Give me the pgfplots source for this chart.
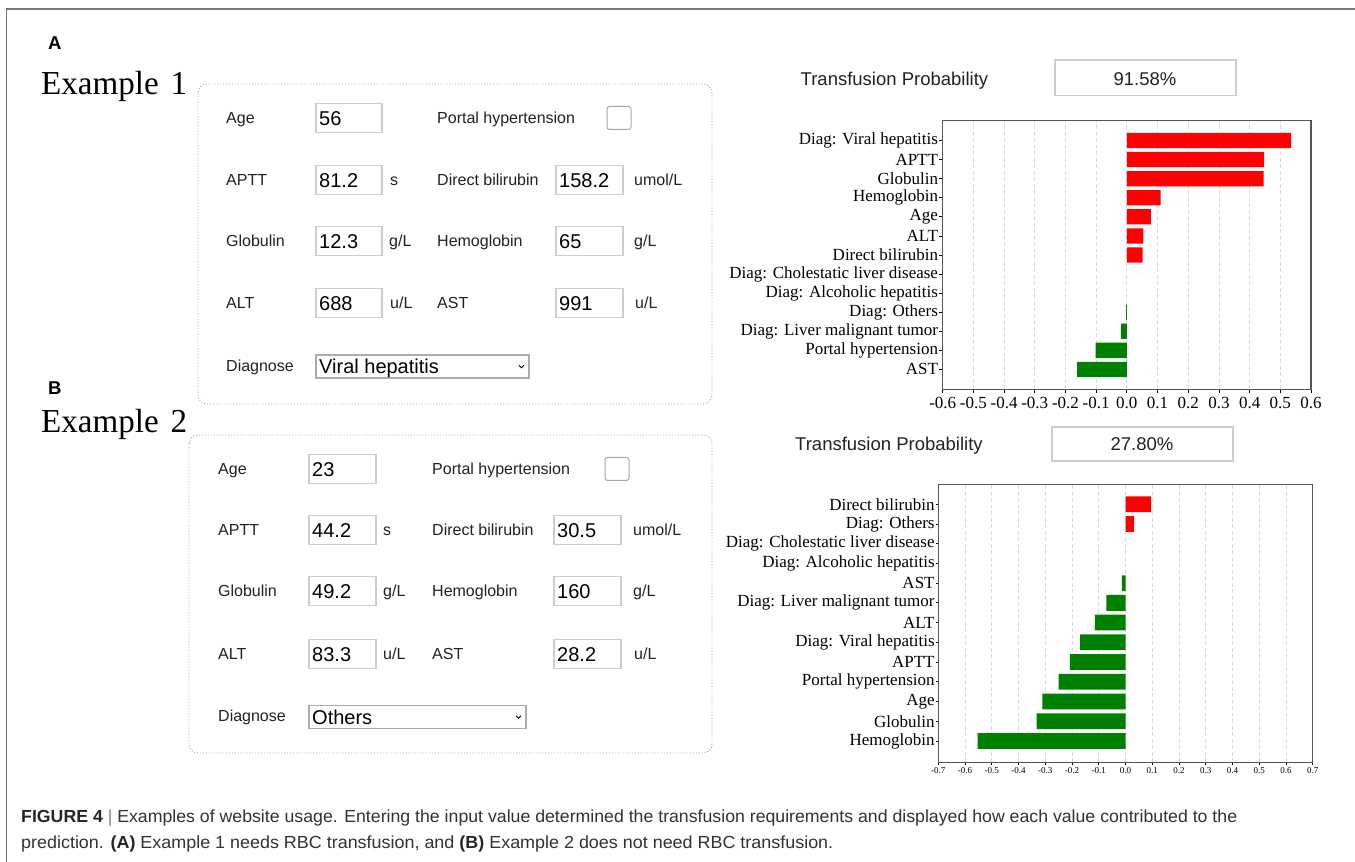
\documentclass[border=0pt]{standalone}
\usepackage{fontspec}
\setmainfont{Liberation Sans}
\newfontfamily\serif{Liberation Serif}
\usepackage{graphicx}
\usepackage{pgfplots}
\pgfplotsset{compat=1.18}
\definecolor{barred}{RGB}{255,0,0}
\definecolor{bargreen}{RGB}{0,128,0}
\definecolor{inputc}{RGB}{205,205,205}
\definecolor{framec}{RGB}{120,120,120}
\definecolor{txt}{RGB}{34,34,34}
\definecolor{capc}{RGB}{50,50,50}
\definecolor{axc}{RGB}{85,85,85}
\newcommand\lab{\fontsize{16}{19}\selectfont}
\newcommand\val{\fontsize{20}{24}\selectfont}
% label: x, ycenter(px from top), text
\newcommand\Lbl[3]{\node[anchor=base west,inner sep=0,font=\lab,text=txt] at (#1,{862-#2-5.7}) {#3};}
% input: x1, x2, ycenter, value
\newcommand\Inp[4]{%
  \draw[inputc,line width=1.2pt] (#1,{862-#3+14.5}) rectangle (#2,{862-#3-14.5});
  \node[anchor=base west,inner sep=0,font=\val] at ({#1+3},{862-#3-7.2}) {#4};}
% checkbox: x, ycenter
\newcommand\Chk[2]{\draw[gray!70,line width=1pt,rounded corners=2.5pt] (#1,{862-#2+11.5}) rectangle ({#1+24},{862-#2-11.5});}
% select: x1, x2, ycenter, text
\newcommand\Sel[4]{%
  \draw[gray!65,line width=1.2pt] (#1,{862-#3+11.5}) rectangle (#2,{862-#3-11.5});
  \node[anchor=base west,inner sep=0,font=\val] at ({#1+3},{862-#3-7.2}) {#4};
  \draw[black,line width=0.9pt] ({#2-10},{862-#3+1.2}) -- ({#2-7.5},{862-#3-1.3}) -- ({#2-5},{862-#3+1.2});}
\pgfplotsset{
  shapax/.style={
    anchor=south west, scale only axis,
    axis line style={axc,line width=1.2pt},
    tick style={black,line width=0.8pt},
    major tick length=3.5pt,
    tick align=outside,
    xtick pos=left, ytick pos=left,
    xmajorgrids,
    major grid style={gray!28,line width=0.8pt,dash pattern=on 4pt off 2.5pt},
    ytick={0,1,2,3,4,5,6,7,8,9,10,11,12},
    yticklabel style={font=\serif\fontsize{17}{19}\selectfont,inner sep=1pt},
  },
  posbar/.style={xbar,bar width=0.8,bar shift=0pt,fill=barred,draw=none},
  negbar/.style={xbar,bar width=0.8,bar shift=0pt,fill=bargreen,draw=none},
}
\begin{document}
\begin{tikzpicture}[x=1pt,y=1pt]
\useasboundingbox (0,0) rectangle (1355,862);
\fill[white] (0,0) rectangle (1355,862);
\draw[framec,line width=1.5pt] (1355,853) -- (6.5,853) -- (6.5,0);

% ---- panel labels ----
\node[anchor=base west,inner sep=0,font=\fontsize{18.5}{20}\selectfont\bfseries] at (48,{862-50}) {A};
\node[anchor=base west,inner sep=0,font=\fontsize{18.5}{20}\selectfont\bfseries] at (48,{862-395}) {B};
\node[anchor=base west,inner sep=0,font=\serif\fontsize{33.5}{36}\selectfont] at (41,{862-95}) {\resizebox{146pt}{\height}{Example\hspace{12pt}1}};
\node[anchor=base west,inner sep=0,font=\serif\fontsize{33.5}{36}\selectfont] at (41,{862-433}) {\resizebox{146pt}{\height}{Example\hspace{12pt}2}};

% ---- form 1 ----
\draw[gray!75,dotted,line width=0.9pt,rounded corners=9pt] (198,{862-84}) rectangle (712,{862-404});
\Lbl{226}{118}{Age} \Inp{316}{382}{118}{56} \Lbl{437}{118}{Portal hypertension} \Chk{607}{118}
\Lbl{226}{180}{APTT} \Inp{316}{382}{180}{81.2} \Lbl{390}{180}{s} \Lbl{437}{180}{Direct bilirubin} \Inp{556}{623}{180}{158.2} \Lbl{634}{180}{umol/L}
\Lbl{226}{241}{Globulin} \Inp{316}{382}{241}{12.3} \Lbl{389}{241}{g/L} \Lbl{437}{241}{Hemoglobin} \Inp{556}{623}{241}{65} \Lbl{634}{241}{g/L}
\Lbl{226}{303}{ALT} \Inp{316}{382}{303}{688} \Lbl{390}{303}{u/L} \Lbl{437}{303}{AST} \Inp{556}{623}{303}{991} \Lbl{635}{303}{u/L}
\Lbl{226}{366}{Diagnose} \Sel{316}{529}{366.5}{Viral hepatitis}

% ---- form 2 ----
\draw[gray!75,dotted,line width=0.9pt,rounded corners=9pt] (189,{862-435}) rectangle (712,{862-753});
\Lbl{218}{469}{Age} \Inp{309}{376}{469}{23} \Lbl{432}{469}{Portal hypertension} \Chk{605}{469}
\Lbl{218}{530}{APTT} \Inp{309}{376}{530}{44.2} \Lbl{383}{530}{s} \Lbl{432}{530}{Direct bilirubin} \Inp{554}{621}{530}{30.5} \Lbl{633}{530}{umol/L}
\Lbl{218}{591}{Globulin} \Inp{309}{376}{591}{49.2} \Lbl{383}{591}{g/L} \Lbl{432}{591}{Hemoglobin} \Inp{554}{621}{591}{160} \Lbl{633}{591}{g/L}
\Lbl{218}{654}{ALT} \Inp{309}{376}{654}{83.3} \Lbl{383}{654}{u/L} \Lbl{432}{654}{AST} \Inp{554}{621}{654}{28.2} \Lbl{634}{654}{u/L}
\Lbl{218}{716}{Diagnose} \Sel{309}{526}{717}{Others}

% ---- probability boxes ----
\node[anchor=base west,inner sep=0,font=\fontsize{18.5}{22}\selectfont,text=txt] at (800.5,{862-86}) {Transfusion Probability};
\draw[inputc,line width=1.2pt] (1055,{862-60}) rectangle (1236,{862-95.5});
\node[anchor=base,inner sep=0,font=\fontsize{18.5}{22}\selectfont,text=txt] at (1145,{862-86}) {91.58\%};
\node[anchor=base west,inner sep=0,font=\fontsize{18.5}{22}\selectfont,text=txt] at (795,{862-451}) {Transfusion Probability};
\draw[inputc,line width=1.2pt] (1052,{862-427}) rectangle (1233,{862-461});
\node[anchor=base,inner sep=0,font=\fontsize{18.5}{22}\selectfont,text=txt] at (1142,{862-451}) {27.80\%};

% ---- chart A ----
\begin{axis}[shapax,
  at={(942.7pt,472.7pt)}, width=368.3pt, height=268.6pt,
  xmin=-0.6, xmax=0.6, ymin=-1.04, ymax=13.04,
  xtick={-0.6,-0.5,-0.4,-0.3,-0.2,-0.1,0,0.1,0.2,0.3,0.4,0.5,0.6},
  xticklabels={-0.6,-0.5,-0.4,-0.3,-0.2,-0.1,0.0,0.1,0.2,0.3,0.4,0.5,0.6},
  xticklabel style={font=\serif\fontsize{17}{19}\selectfont,inner sep=4pt},
  yticklabels={AST,Portal hypertension,Diag: Liver malignant tumor,Diag: Others,Diag: Alcoholic hepatitis,Diag: Cholestatic liver disease,Direct bilirubin,ALT,Age,Hemoglobin,Globulin,APTT,Diag: Viral hepatitis},
]
\addplot[posbar] coordinates {(0.535,12) (0.447,11) (0.446,10) (0.110,9) (0.078,8) (0.054,7) (0.051,6)};
\addplot[negbar] coordinates {(-0.002,3) (-0.019,2) (-0.102,1) (-0.162,0)};
\end{axis}

% ---- chart B ----
\begin{axis}[shapax,
  at={(938.3pt,99.7pt)}, width=374.4pt, height=278pt,
  xmin=-0.7, xmax=0.7, ymin=-1.08, ymax=13.01,
  major tick length=2.5pt,
  xtick={-0.7,-0.6,-0.5,-0.4,-0.3,-0.2,-0.1,0,0.1,0.2,0.3,0.4,0.5,0.6,0.7},
  xticklabels={-0.7,-0.6,-0.5,-0.4,-0.3,-0.2,-0.1,0.0,0.1,0.2,0.3,0.4,0.5,0.6,0.7},
  xticklabel style={font=\serif\fontsize{9}{10}\selectfont,inner sep=3pt},
  yticklabels={Hemoglobin,Globulin,Age,Portal hypertension,APTT,Diag: Viral hepatitis,ALT,Diag: Liver malignant tumor,AST,Diag: Alcoholic hepatitis,Diag: Cholestatic liver disease,Diag: Others,Direct bilirubin},
]
\addplot[posbar] coordinates {(0.096,12) (0.032,11)};
\addplot[negbar] coordinates {(-0.014,8) (-0.072,7) (-0.115,6) (-0.170,5) (-0.208,4) (-0.250,3) (-0.311,2) (-0.332,1) (-0.553,0)};
\end{axis}

% ---- caption ----
\node[anchor=base west,inner sep=0,text=capc] at (21,{862-823}) {\resizebox{1216pt}{\height}{\fontsize{17.5}{20}\selectfont{\bfseries\color{black!85}FIGURE 4} {\color{gray}|} Examples of website usage. Entering the input value determined the transfusion requirements and displayed how each value contributed to the}};
\node[anchor=base west,inner sep=0,text=capc] at (21,{862-849}) {\resizebox{812pt}{\height}{\fontsize{17.5}{20}\selectfont prediction. {\bfseries\color{black!85}(A)} Example 1 needs RBC transfusion, and {\bfseries\color{black!85}(B)} Example 2 does not need RBC transfusion.}};
\end{tikzpicture}
\end{document}
